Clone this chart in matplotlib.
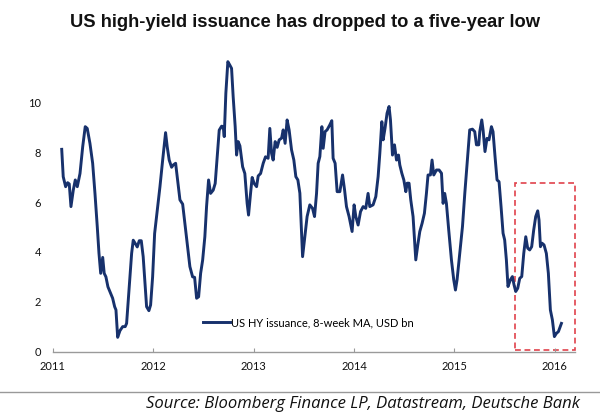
import matplotlib
matplotlib.use("Agg")
import matplotlib.pyplot as plt
from matplotlib.patches import Rectangle
from matplotlib.lines import Line2D

# weekly 8-week moving average (decimal years)
years = [
    2011.090, 2011.105, 2011.129, 2011.149, 2011.165, 2011.182, 2011.205, 2011.225,
    2011.245, 2011.272, 2011.299, 2011.324, 2011.344, 2011.371, 2011.398, 2011.421,
    2011.444, 2011.461, 2011.478, 2011.498, 2011.513, 2011.530, 2011.550, 2011.570,
    2011.597, 2011.617, 2011.630, 2011.647, 2011.670, 2011.697, 2011.722, 2011.736,
    2011.762, 2011.786, 2011.802, 2011.822, 2011.842, 2011.862, 2011.882, 2011.901,
    2011.921, 2011.935, 2011.958, 2011.975, 2011.995, 2012.015, 2012.041, 2012.068,
    2012.095, 2012.124, 2012.140, 2012.160, 2012.184, 2012.200, 2012.224, 2012.244,
    2012.267, 2012.294, 2012.316, 2012.339, 2012.366, 2012.393, 2012.413, 2012.433,
    2012.453, 2012.473, 2012.493, 2012.515, 2012.532, 2012.552, 2012.572, 2012.598,
    2012.618, 2012.638, 2012.658, 2012.682, 2012.698, 2012.708, 2012.724, 2012.744,
    2012.764, 2012.781, 2012.797, 2012.817, 2012.831, 2012.847, 2012.864, 2012.891,
    2012.913, 2012.936, 2012.950, 2012.970, 2012.986, 2013.006, 2013.030, 2013.046,
    2013.070, 2013.096, 2013.119, 2013.145, 2013.162, 2013.179, 2013.195, 2013.215,
    2013.235, 2013.255, 2013.279, 2013.295, 2013.314, 2013.334, 2013.354, 2013.378,
    2013.401, 2013.421, 2013.441, 2013.461, 2013.488, 2013.510, 2013.533, 2013.560,
    2013.587, 2013.607, 2013.627, 2013.643, 2013.660, 2013.680, 2013.693, 2013.712,
    2013.732, 2013.759, 2013.779, 2013.792, 2013.812, 2013.832, 2013.859, 2013.886,
    2013.906, 2013.925, 2013.951, 2013.981, 2014.001, 2014.018, 2014.041, 2014.065,
    2014.091, 2014.117, 2014.140, 2014.157, 2014.190, 2014.217, 2014.240, 2014.257,
    2014.277, 2014.290, 2014.309, 2014.329, 2014.349, 2014.363, 2014.383, 2014.403,
    2014.423, 2014.443, 2014.456, 2014.476, 2014.496, 2014.516, 2014.529, 2014.548,
    2014.565, 2014.588, 2014.615, 2014.635, 2014.655, 2014.678, 2014.701, 2014.721,
    2014.737, 2014.761, 2014.777, 2014.794, 2014.821, 2014.847, 2014.871, 2014.887,
    2014.903, 2014.920, 2014.943, 2014.970, 2014.993, 2015.010, 2015.026, 2015.053,
    2015.080, 2015.103, 2015.129, 2015.152, 2015.179, 2015.202, 2015.219, 2015.242,
    2015.252, 2015.272, 2015.285, 2015.304, 2015.324, 2015.344, 2015.368, 2015.384,
    2015.404, 2015.424, 2015.444, 2015.464, 2015.484, 2015.500, 2015.517, 2015.533,
    2015.557, 2015.577, 2015.593, 2015.610, 2015.630, 2015.650, 2015.670, 2015.690,
    2015.710, 2015.729, 2015.749, 2015.769, 2015.789, 2015.809, 2015.829, 2015.842,
    2015.856, 2015.872, 2015.892, 2015.915, 2015.935, 2015.955, 2015.975, 2015.995,
    2016.015, 2016.035, 2016.065,
]
issuance = [
    8.12, 7.02, 6.62, 6.78, 6.73, 5.82, 6.48, 6.89,
    6.62, 7.15, 8.23, 9.03, 8.96, 8.36, 7.56, 6.35,
    5.01, 3.94, 3.14, 3.78, 3.14, 3.00, 2.60, 2.40,
    2.14, 1.80, 1.67, 0.57, 0.84, 1.00, 1.00, 1.13,
    2.60, 3.94, 4.47, 4.34, 4.20, 4.45, 4.45, 3.81,
    2.60, 1.80, 1.64, 1.87, 3.00, 4.74, 5.68, 6.62,
    7.69, 8.79, 8.23, 7.69, 7.40, 7.49, 7.56, 6.89,
    6.09, 5.92, 5.15, 4.34, 3.41, 3.00, 2.98, 2.14,
    2.20, 3.14, 3.67, 4.61, 5.82, 6.89, 6.35, 6.48,
    6.75, 7.82, 8.89, 9.05, 9.03, 8.63, 10.37, 11.64,
    11.50, 11.37, 10.23, 9.03, 7.89, 8.43, 8.26, 7.42,
    7.15, 5.95, 5.48, 6.35, 6.99, 6.75, 6.62, 7.05,
    7.15, 7.56, 7.82, 7.76, 8.96, 7.96, 7.69, 8.43,
    8.20, 8.50, 8.57, 8.90, 8.36, 9.30, 8.90, 8.10,
    7.69, 7.02, 6.89, 6.36, 3.81, 4.60, 5.42, 5.89,
    5.75, 5.42, 6.35, 7.56, 7.83, 9.03, 8.16, 8.83,
    8.90, 9.10, 9.27, 7.76, 7.56, 6.42, 6.42, 7.09,
    6.49, 5.82, 5.42, 4.82, 5.89, 5.42, 5.08, 5.62,
    5.82, 5.75, 6.35, 5.82, 5.89, 6.22, 7.02, 7.96,
    9.23, 8.50, 8.97, 9.57, 9.84, 9.30, 7.89, 8.30,
    7.69, 7.89, 7.49, 7.16, 6.89, 6.42, 6.76, 6.76,
    6.09, 5.42, 3.68, 4.28, 4.82, 5.15, 5.55, 6.35,
    7.09, 7.09, 7.69, 7.09, 7.29, 7.29, 7.16, 5.95,
    6.35, 5.95, 4.88, 3.68, 2.88, 2.47, 2.88, 3.94,
    5.02, 6.35, 7.69, 8.90, 8.93, 8.83, 8.30, 8.30,
    8.83, 9.30, 8.90, 8.03, 8.56, 8.50, 9.03, 8.83,
    7.83, 6.89, 6.82, 5.82, 4.75, 4.48, 3.68, 2.61,
    2.88, 3.01, 2.68, 2.41, 2.54, 2.94, 3.01, 3.94,
    4.61, 4.15, 4.08, 4.21, 4.88, 5.42, 5.65, 5.28,
    4.21, 4.35, 4.28, 3.94, 3.14, 1.67, 1.27, 0.60,
    0.73, 0.80, 1.13,
]

year_ticks = [2011, 2012, 2013, 2014, 2015, 2016]
value_ticks = [0, 2, 4, 6, 8, 10]

# highlighted recent period (dashed box)
box_start, box_end = 2015.607, 2016.20
box_low, box_high = 0.06, 6.78

LINE_COL = "#17316c"
BOX_COL = "#e0424b"

fig = plt.figure(figsize=(6, 4.17), dpi=100)
ax = fig.add_axes([0.0878, 0.157, 0.8705, 0.7166])

ax.plot(years, issuance, color=LINE_COL, lw=2.1, solid_joinstyle="round")

ax.add_patch(Rectangle((box_start, box_low), box_end - box_start, box_high - box_low,
                       fill=False, ec=BOX_COL, lw=1.2, ls=(0, (3.5, 2.2)), clip_on=False))

ax.set_xlim(2011, 2016.2)
ax.set_ylim(0, 12)
ax.set_xticks(year_ticks)
ax.set_xticklabels([str(y) for y in year_ticks])
ax.set_yticks(value_ticks)

for s in ["top", "right", "left"]:
    ax.spines[s].set_visible(False)
ax.spines["bottom"].set_color("#9a9a9a")
ax.spines["bottom"].set_linewidth(1)

ax.tick_params(axis="x", direction="in", length=3, color="#9a9a9a", pad=7,
               labelsize=8, labelcolor="#111111")
ax.tick_params(axis="y", length=0, pad=8.4, labelsize=8, labelcolor="#111111")
for lab in ax.get_xticklabels() + ax.get_yticklabels():
    lab.set_family("Lato")

handle = Line2D([], [], color=LINE_COL, lw=2.1)
ax.legend([handle], ["US HY issuance, 8-week MA, USD bn"], loc="center left",
          bbox_to_anchor=(0.288, 0.096), frameon=False, borderpad=0,
          borderaxespad=0, handlelength=2.4, handletextpad=0.15,
          prop={"family": "Lato", "size": 8})

fig.text(0.508, 0.945, "US high-yield issuance has dropped to a five-year low",
         ha="center", va="center", fontsize=13.2, fontweight="bold",
         family="Liberation Sans", color="#111111")

fig.add_artist(Line2D([0, 1], [1 - 392 / 417, 1 - 392 / 417], color="#999999", lw=1))

fig.text(0.967, 1 - 404 / 417, "Source: Bloomberg Finance LP, Datastream, Deutsche Bank",
         ha="right", va="center", fontsize=12, style="italic", family="Open Sans",
         color="#111111")

fig.savefig("out.png", dpi=100)
